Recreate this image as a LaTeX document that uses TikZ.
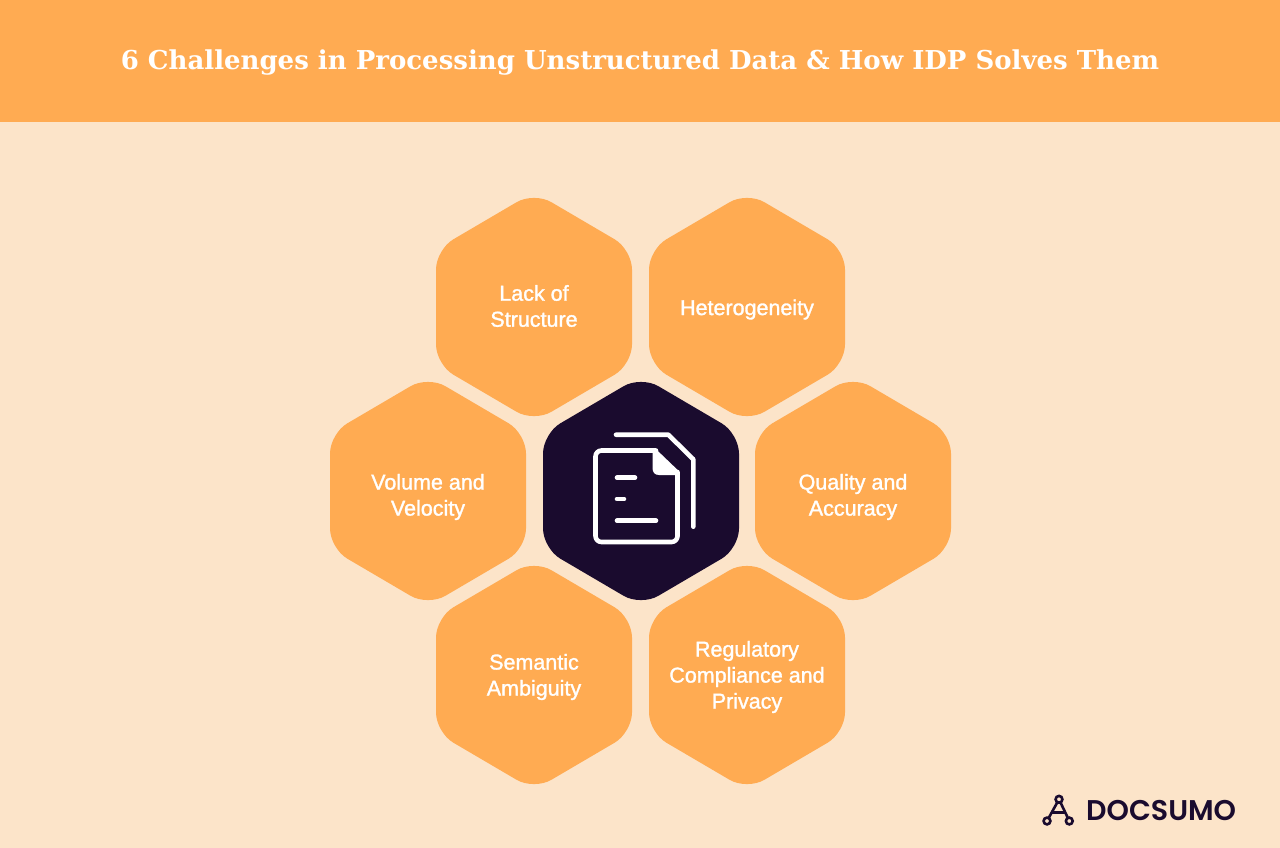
\documentclass[tikz,border=0pt]{standalone}
\usepackage{fontspec}
\setmainfont{Liberation Sans}
\newfontfamily\titlefont{DejaVu Serif}
\newfontfamily\cellfont{Liberation Sans}[FakeBold=1.4]
\newfontfamily\logofont{Poppins SemiBold}
\definecolor{bgc}{HTML}{FCE4C9}
\definecolor{orangec}{HTML}{FFAB52}
\definecolor{darkc}{HTML}{1A0B2E}
\tikzset{
  hexfill/.style={fill=#1,draw=none,rounded corners=20pt},
  celltext/.style={text=white,align=center,font=\cellfont\fontsize{21.5}{26}\selectfont,inner sep=0pt},
  iconline/.style={draw=white,line width=4.6pt,line cap=round,line join=round},
  logoline/.style={draw=darkc,line width=2.6pt}
}
\newcommand{\hexcell}[6]{%
  \path[hexfill=#3] (#1+98,#2-57.5) -- (#1,#2-115) -- (#1-98,#2-57.5) -- (#1-98,#2+57.5) -- (#1,#2+115) -- (#1+98,#2+57.5) -- cycle;
  \node[celltext] (#4) at (#1,#6) {#5};
}
\begin{document}
\begin{tikzpicture}[x=1pt,y=-1pt]
\useasboundingbox (0,0) rectangle (1280,848);
\fill[bgc] (0,0) rectangle (1280,848);
\fill[orangec] (0,0) rectangle (1280,122);
\node[text=white,inner sep=0pt,font=\titlefont\bfseries\fontsize{26}{34}\selectfont] (title) at (640,62.5) {6 Challenges in Processing Unstructured Data \& How IDP Solves Them};
\hexcell{534}{307}{orangec}{a}{Lack of\\Structure}{306}
\hexcell{747}{307}{orangec}{b}{Heterogeneity}{309.5}
\hexcell{428}{491}{orangec}{c}{Volume and\\Velocity}{497}
\hexcell{641}{491}{darkc}{m}{}{491}
\hexcell{853}{491}{orangec}{d}{Quality and\\Accuracy}{497}
\hexcell{534}{675}{orangec}{e}{Semantic\\Ambiguity}{677}
\hexcell{747}{675}{orangec}{f}{Regulatory\\Compliance and\\Privacy}{677}
% document icon
\draw[iconline] (616,434.7) -- (668.3,434.7) -- (693.3,459.3) -- (693.3,526.7);
\draw[iconline,rounded corners=6pt] (656,450.5) -- (595.5,450.5) -- (595.5,542) -- (677.5,542) -- (677.5,472);
\draw[iconline,line cap=butt] (654,450.5) -- (677.5,473);
\fill[white] (652.5,450) -- (656,450) -- (679,473) -- (679,475) -- (659,475) .. controls (655,475) and (652.5,472.5) .. (652.5,468) -- cycle;
\draw[iconline] (617,477.7) -- (635,477.7);
\draw[iconline] (617,499) -- (624,499);
\draw[iconline] (617,520.7) -- (656,520.7);
% logo
\coordinate (lt) at (1059,799.3);
\coordinate (ll) at (1047,821);
\coordinate (lr) at (1069.3,821);
\coordinate (cl) at (1052.5,812.5);
\coordinate (cr) at (1065,812.5);
\draw[logoline] (lt) -- (ll) (lt) -- (lr) (cl) -- (cr);
\filldraw[logoline,fill=bgc] (lt) circle (3.4) (ll) circle (3.4) (lr) circle (3.4);
\node[anchor=west,text=darkc,inner sep=0pt,font=\logofont\fontsize{28.5}{30}\selectfont] (logo) at (1086,811) {DOCSUMO};
\end{tikzpicture}
\end{document}
